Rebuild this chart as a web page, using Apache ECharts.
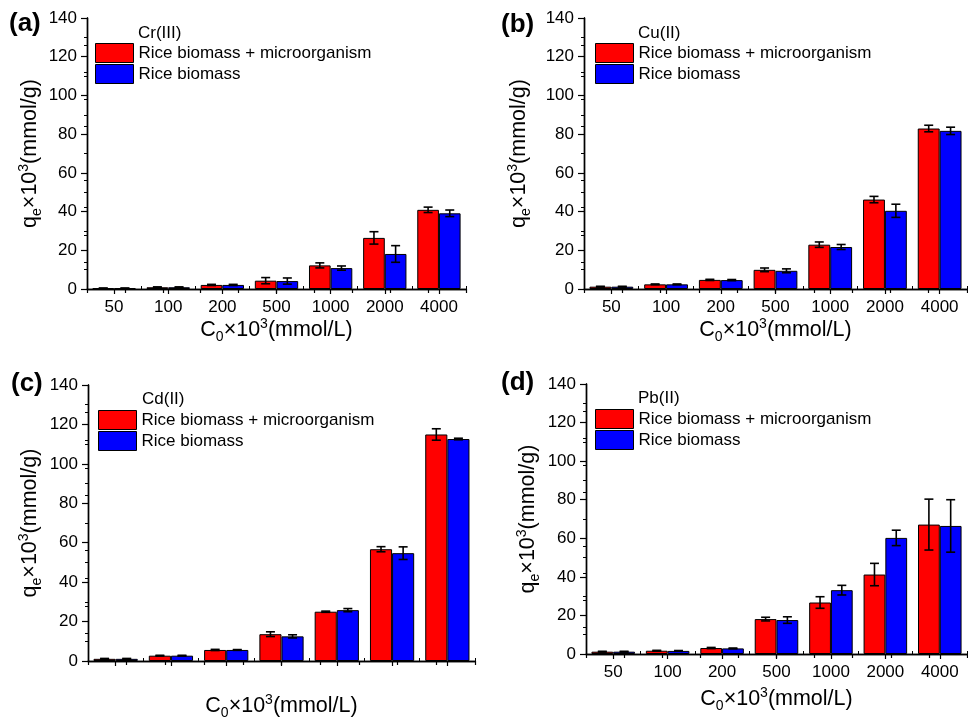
<!DOCTYPE html>
<html><head><meta charset="utf-8">
<script src="https://cdn.jsdelivr.net/npm/echarts@6/dist/echarts.min.js"></script>
<style>html,body{margin:0;padding:0;background:#fff}#c{width:968px;height:718px}</style>
</head><body><div id="c"></div>
<script>
// ---- data ----
const categories = ['50', '100', '200', '500', '1000', '2000', '4000'];
const seriesNames = ['Rice biomass + microorganism', 'Rice biomass'];
const panelLabels = ['(a)', '(b)', '(c)', '(d)'];
const metals = ['Cr(III)', 'Cu(II)', 'Cd(II)', 'Pb(II)'];

const crMicro    = [0.4, 0.9, 2.1, 4.3, 12.2, 26.4, 40.9];
const crMicroErr = [0.1, 0.2, 0.3, 1.6, 1.3, 3.2, 1.4];
const crRice     = [0.4, 0.9, 2.1, 4.1, 10.8, 18.1, 39.1];
const crRiceErr  = [0.1, 0.2, 0.3, 1.6, 1.1, 4.3, 1.7];

const cuMicro    = [1.2, 2.4, 4.7, 9.9, 22.9, 46.2, 82.9];
const cuMicroErr = [0.2, 0.2, 0.3, 0.95, 1.4, 1.65, 1.7];
const cuRice     = [1.2, 2.4, 4.6, 9.4, 21.7, 40.4, 81.7];
const cuRiceErr  = [0.2, 0.2, 0.3, 1.0, 1.3, 3.4, 1.9];

const cdMicro    = [1.1, 2.7, 5.6, 13.6, 25.0, 56.7, 114.9];
const cdMicroErr = [0.2, 0.2, 0.3, 1.2, 0.3, 1.3, 2.9];
const cdRice     = [1.1, 2.7, 5.6, 12.5, 25.8, 54.7, 112.6];
const cdRiceErr  = [0.2, 0.2, 0.2, 0.8, 0.8, 3.2, 0.4];

const pbMicro    = [1.2, 1.7, 3.1, 18.1, 26.7, 41.2, 67.1];
const pbMicroErr = [0.2, 0.2, 0.3, 0.95, 3.0, 5.8, 13.2];
const pbRice     = [1.2, 1.6, 2.9, 17.6, 33.1, 60.2, 66.4];
const pbRiceErr  = [0.2, 0.2, 0.2, 1.7, 2.5, 4.0, 13.6];

const yMin = 0, yMax = 140, yStep = 20;

// ---- layout / style ----
const FONT = 'Liberation Sans, Arial, sans-serif';
const panelData = [
  {micro: crMicro, microErr: crMicroErr, rice: crRice, riceErr: crRiceErr},
  {micro: cuMicro, microErr: cuMicroErr, rice: cuRice, riceErr: cuRiceErr},
  {micro: cdMicro, microErr: cdMicroErr, rice: cdRice, riceErr: cdRiceErr},
  {micro: pbMicro, microErr: pbMicroErr, rice: pbRice, riceErr: pbRiceErr}
];
const layout = [
  {grid: {left: 87, top: 18, width: 379, height: 271}, label: [9, 11], metal: [138, 25], legend: [95, 43], showX: true, yGap: 43, xGap: 28},
  {grid: {left: 584, top: 18, width: 383, height: 271}, label: [501, 12], metal: [638, 25], legend: [595, 43], showX: true, yGap: 51, xGap: 28},
  {grid: {left: 88, top: 385, width: 387, height: 276}, label: [11, 371], metal: [142, 391], legend: [98, 410], showX: false, yGap: 44, xGap: 32},
  {grid: {left: 586, top: 384, width: 381, height: 270}, label: [501, 370], metal: [638, 390], legend: [595, 409], showX: true, yGap: 44, xGap: 32}
];
const colors = ['#FF0000', '#0000FF'];
const black = '#000';

const nameRich = {
  a: {fontSize: 21.5, fontFamily: FONT, color: black, lineHeight: 27},
  sub: {fontSize: 14, fontFamily: FONT, color: black, lineHeight: 12, verticalAlign: 'bottom'},
  sup: {fontSize: 14, fontFamily: FONT, color: black, lineHeight: 12, verticalAlign: 'top'}
};
const yName = '{a|q}{sub|e}{a|×10}{sup|3}{a|(mmol/g)}';
const xName = '{a|C}{sub|0}{a|×10}{sup|3}{a|(mmol/L)}';

function errRender(offsetFrac) {
  return function (params, api) {
    const i = api.value(0), v = api.value(1), e = api.value(2);
    const band = api.size([1, 0])[0];
    const cx = api.coord([i, v])[0] + offsetFrac * band;
    const yHi = api.coord([i, v + e])[1];
    const yLo = api.coord([i, v - e])[1];
    const cap = 4.5;
    const st = {stroke: black, lineWidth: 1.6};
    return {type: 'group', children: [
      {type: 'line', shape: {x1: cx, y1: yHi, x2: cx, y2: yLo}, style: st},
      {type: 'line', shape: {x1: cx - cap, y1: yHi, x2: cx + cap, y2: yHi}, style: st},
      {type: 'line', shape: {x1: cx - cap, y1: yLo, x2: cx + cap, y2: yLo}, style: st}
    ]};
  };
}

const axisLineStyle = {color: black, width: 1.4};
const option = {
  backgroundColor: '#fff',
  animation: false,
  grid: [], xAxis: [], yAxis: [], series: [], legend: [], title: []
};

layout.forEach((L, g) => {
  option.grid.push(Object.assign({outerBoundsMode: 'none', containLabel: false}, L.grid));
  // category axis (bottom)
  option.xAxis.push({
    gridIndex: g, type: 'category', data: categories, position: 'bottom',
    name: xName, nameLocation: 'middle', nameGap: L.xGap,
    nameTextStyle: {rich: nameRich, fontFamily: FONT},
    axisLine: {show: true, lineStyle: axisLineStyle},
    axisTick: {show: true, alignWithLabel: true, inside: false, length: 5, lineStyle: {color: black, width: 1.2}},
    axisLabel: {show: L.showX, color: black, fontSize: 17, fontFamily: FONT, margin: 10},
    splitLine: {show: false}
  });
  // top frame axis
  option.xAxis.push({
    gridIndex: g, type: 'value', position: 'top', min: 0, max: 10, interval: 1,
    axisLine: {show: true, lineStyle: axisLineStyle},
    axisTick: {show: true, inside: true, length: 4, lineStyle: {color: black, width: 1.2}},
    axisLabel: {show: false}, splitLine: {show: false}
  });
  // bottom boundary ticks
  option.xAxis.push({
    gridIndex: g, type: 'value', position: 'bottom', min: 0, max: 7, interval: 1,
    axisLine: {show: false},
    axisTick: {show: true, inside: true, length: 3, lineStyle: {color: black}},
    axisLabel: {show: false}, splitLine: {show: false}
  });
  option.yAxis.push({
    gridIndex: g, type: 'value', min: yMin, max: yMax, interval: yStep, position: 'left',
    name: yName, nameLocation: 'middle', nameRotate: 90, nameGap: L.yGap,
    nameTextStyle: {rich: nameRich, fontFamily: FONT},
    axisLine: {show: true, lineStyle: axisLineStyle},
    axisTick: {show: true, inside: false, length: 6, lineStyle: {color: black, width: 1.2}},
    minorTick: {show: true, splitNumber: 2, length: 3, lineStyle: {color: black}},
    axisLabel: {color: black, fontSize: 17, fontFamily: FONT, margin: 10},
    splitLine: {show: false}, minorSplitLine: {show: false}
  });
  option.yAxis.push({
    gridIndex: g, type: 'value', min: 0, max: 10, interval: 1, position: 'right',
    axisLine: {show: true, lineStyle: axisLineStyle},
    axisTick: {show: true, inside: true, length: 3, lineStyle: {color: black}},
    axisLabel: {show: false}, splitLine: {show: false}
  });

  const D = panelData[g];
  const vals = [D.micro, D.rice];
  const errs = [D.microErr, D.riceErr];
  [0, 1].forEach(s => {
    option.series.push({
      type: 'bar', name: seriesNames[s], xAxisIndex: 3 * g, yAxisIndex: 2 * g,
      data: vals[s], barGap: '0%', barCategoryGap: '20%',
      itemStyle: {color: colors[s], borderColor: black, borderWidth: 1},
      emphasis: {disabled: true}
    });
  });
  [0, 1].forEach(s => {
    option.series.push({
      type: 'custom', name: seriesNames[s] + ' error', xAxisIndex: 3 * g, yAxisIndex: 2 * g,
      data: vals[s].map((v, i) => [i, v, errs[s][i]]),
      encode: {x: 0, y: 1}, z: 5, silent: true,
      renderItem: errRender(s === 0 ? -0.2 : 0.2)
    });
  });

  option.legend.push({
    data: seriesNames, orient: 'vertical', left: L.legend[0], top: L.legend[1],
    padding: 0, itemGap: 1, itemWidth: 38, itemHeight: 19, icon: 'rect',
    itemStyle: {borderColor: black, borderWidth: 1},
    textStyle: {color: black, fontSize: 17, fontFamily: FONT, lineHeight: 19},
    selectedMode: false
  });
  option.title.push({
    text: panelLabels[g], left: L.label[0], top: L.label[1], padding: 0,
    textStyle: {fontSize: 26, fontWeight: 'bold', color: black, fontFamily: FONT, lineHeight: 26}
  });
  option.title.push({
    text: metals[g], left: L.metal[0], top: L.metal[1], padding: 0,
    textStyle: {fontSize: 17, fontWeight: 'normal', color: black, fontFamily: FONT, lineHeight: 17}
  });
});

const chart = echarts.init(document.getElementById('c'), null, {renderer: 'canvas'});
chart.setOption(option);
</script>
</body></html>
